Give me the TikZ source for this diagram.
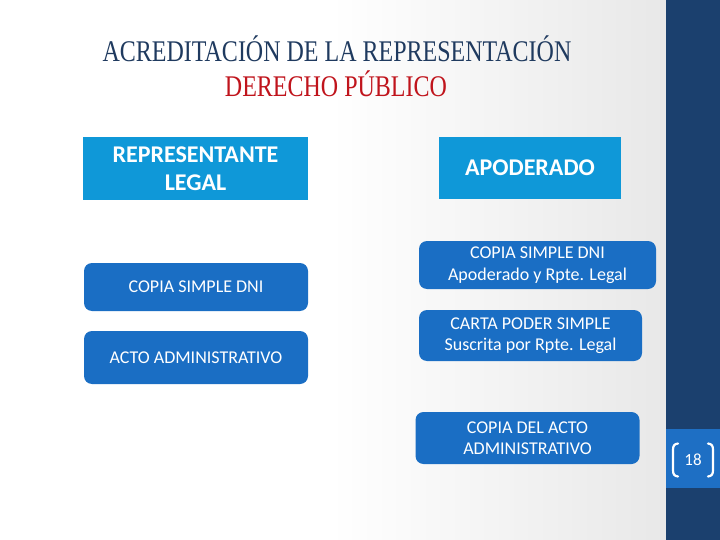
\documentclass[tikz,border=0pt]{standalone}
\usepackage{fontspec}
\setmainfont{Liberation Serif}
\newfontfamily\carlito{Carlito}
\newfontfamily\titlefont[FakeStretch=0.8]{Liberation Serif}
\definecolor{titlenavy}{HTML}{1F3A5F}
\definecolor{titlered}{HTML}{C0141C}
\definecolor{hdrblue}{HTML}{0F98D8}
\definecolor{docblue}{HTML}{1A6EC4}
\definecolor{barnavy}{HTML}{1B406E}
\definecolor{pageblue}{HTML}{1E6FC4}
\definecolor{bggray}{HTML}{E8E8E8}
\tikzset{
  hdrbox/.style={fill=hdrblue, draw=none, inner sep=0pt, align=center, text=white,
    font={\carlito\bfseries\fontsize{24}{28}\selectfont}},
  docbox/.style={fill=docblue, draw=none, rounded corners=8pt, inner sep=0pt, align=center, text=white,
    font={\carlito\fontsize{18}{21.5}\selectfont}},
  titletext/.style={anchor=base, inner sep=0pt, font={\titlefont\fontsize{30}{34}\selectfont}},
  bracket/.style={draw=white, line width=2.2pt, line cap=round}
}
\begin{document}
\begin{tikzpicture}[x=1pt,y=-1pt]
\useasboundingbox (0,0) rectangle (720,540);
% background
\fill[white] (0,0) rectangle (330,540);
\shade[left color=white, right color=bggray] (330,0) rectangle (667,540);
% right bar
\fill[barnavy] (666,0) rectangle (720,540);
\fill[pageblue] (666,429) rectangle (720,488);
% title
\node[titletext, text=titlenavy] (t1) at (337,61.5) {ACREDITACIÓN DE LA REPRESENTACIÓN};
\node[titletext, text=titlered] (t2) at (336,96.5) {DERECHO PÚBLICO};
% header boxes
\node[hdrbox, minimum width=225pt, minimum height=63pt] (rl) at (195.5,168.5) {REPRESENTANTE\\LEGAL};
\node[hdrbox, minimum width=182pt, minimum height=62pt] (ap) at (530,168) {APODERADO};
% left documents
\node[docbox, minimum width=224pt, minimum height=48pt] (d1) at (196,287) {COPIA SIMPLE DNI};
\node[docbox, minimum width=224pt, minimum height=53pt] (d2) at (196,357.5) {ACTO ADMINISTRATIVO};
% right documents
\node[docbox, minimum width=237pt, minimum height=48pt] (d3) at (537.5,265) {COPIA SIMPLE DNI\\Apoderado y Rpte. Legal};
\node[docbox, minimum width=223pt, minimum height=51pt] (d4) at (530.5,335.5) {CARTA PODER SIMPLE\\Suscrita por Rpte. Legal};
\node[docbox, minimum width=224pt, minimum height=52pt] (d5) at (527.5,438) {COPIA DEL ACTO\\ADMINISTRATIVO};
% page number
\node[inner sep=0pt, text=white, font={\carlito\fontsize{17}{20}\selectfont}] (pg) at (693,460) {18};
\draw[bracket] (678,443.5) .. controls (674,444) and (673,446) .. (673,450) -- (673,470) .. controls (673,474) and (674,476) .. (678,476.5);
\draw[bracket] (708,443.5) .. controls (712,444) and (713,446) .. (713,450) -- (713,470) .. controls (713,474) and (712,476) .. (708,476.5);
\end{tikzpicture}
\end{document}
